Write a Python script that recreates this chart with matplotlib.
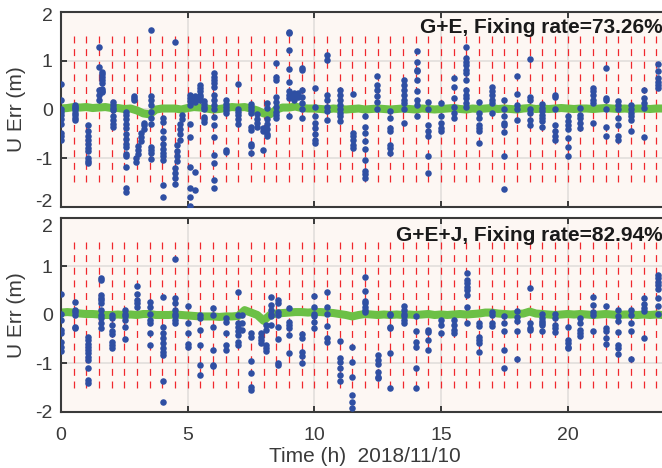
import numpy as np
import matplotlib
matplotlib.use("Agg")
import matplotlib.pyplot as plt
from matplotlib.transforms import ScaledTranslation

plt.rcParams['font.family'] = ['Liberation Sans', 'DejaVu Sans']
plt.rcParams['axes.unicode_minus'] = False
plt.rcParams['lines.scale_dashes'] = False

# ---------------- data ----------------
x_ticks = [0, 5, 10, 15, 20]
y_ticks = [-2, -1, 0, 1, 2]
titles = ["G+E, Fixing rate=73.26%", "G+E+J, Fixing rate=82.94%"]
x_label = "Time (h)  2018/11/10"
y_label = "U Err (m)"

# re-initialisation epochs (every half hour)
reset_t = np.arange(0.5, 24.0, 0.5)

# fixed solution (green), sampled every 0.25 h from 0 to 24 h
green_t = np.arange(0, 24.01, 0.25)
green_top = [0.02, 0.03, 0.05, 0.04, 0.05, 0.03, 0.04, 0.05, 0.03, 0.03,
             0.01, 0.02, -0.02, -0.08, -0.10, 0.00, 0.02, 0.02, 0.02, 0.00,
             0.03, 0.05, 0.04, 0.02, 0.00, 0.01, 0.03, 0.05, 0.04, 0.05,
             0.02, -0.02, -0.08, -0.10, 0.00, 0.04, 0.04, 0.06, 0.03, 0.02,
             0.02, 0.01, 0.00, 0.02, 0.01, 0.00, 0.01, 0.02, 0.00, 0.01,
             0.02, 0.01, 0.00, 0.01, 0.02, 0.01, 0.00, 0.02, 0.01, 0.00,
             0.01, 0.02, 0.03, 0.01, 0.00, 0.02, 0.01, 0.02, 0.03, 0.01,
             0.02, 0.01, 0.00, 0.02, 0.03, 0.01, 0.02, 0.01, 0.02, 0.03,
             0.02, 0.01, 0.02, 0.02, 0.01, 0.02, 0.03, 0.02, 0.01, 0.02,
             0.01, 0.02, 0.02, 0.01, 0.02, 0.02, 0.02]
green_bot = [0.05, 0.06, 0.05, 0.03, 0.02, 0.02, 0.01, 0.00, 0.00, 0.01,
             0.00, 0.01, 0.00, 0.02, 0.02, 0.00, 0.00, 0.00, 0.01, 0.00,
             -0.01, -0.02, -0.03, -0.03, -0.03, -0.04, -0.03, -0.03, -0.02, 0.10,
             0.05, 0.00, -0.12, 0.00, 0.03, 0.04, 0.05, 0.06, 0.06, 0.05,
             0.06, 0.06, 0.05, 0.04, 0.02, 0.00, -0.03, 0.00, 0.02, 0.01,
             0.00, 0.01, 0.00, 0.01, 0.00, 0.01, 0.00, 0.01, 0.02, 0.00,
             0.01, 0.00, 0.01, 0.02, 0.01, 0.02, 0.03, 0.05, 0.05, 0.03,
             0.02, 0.01, 0.02, 0.03, 0.07, 0.03, 0.02, 0.01, 0.00, 0.01,
             0.02, 0.01, 0.02, 0.01, 0.00, 0.01, 0.02, 0.01, 0.00, 0.01,
             0.01, 0.00, 0.01, 0.00, 0.01, 0.00, 0.01]

# float solutions (blue): epoch time -> list of U errors
blue_top_t = [0.00, 0.55, 1.05, 1.52, 1.60, 2.05, 2.55, 2.87, 2.95, 3.05,
              3.15, 3.28, 3.55, 4.02, 4.50, 4.60, 4.70, 4.76, 5.08, 5.30,
              5.50, 5.65, 6.06, 6.52, 7.00, 7.52, 7.75, 7.98, 8.15, 8.50,
              9.00, 9.20, 9.35, 9.52, 10.02, 10.50, 11.00, 11.52, 12.00, 12.48,
              13.00, 13.55, 14.05, 14.50, 15.00, 15.52, 16.00, 16.50, 17.00, 17.50,
              18.00, 18.50, 19.00, 19.50, 20.00, 20.50, 21.00, 21.50, 22.00, 22.50,
              23.00, 23.55]
blue_top_v = [
    [0.53, 0.19, 0.02, -0.06, -0.12, -0.2, -0.3, -0.49, -0.55, -0.62],
    [0.1, 0.06, 0.03, -0.02, -0.07, -0.12, -0.17, -0.22],
    [-0.32, -0.45, -0.55, -0.62, -0.7, -0.78, -0.86, -1.0, -1.05, -1.1],
    [1.29, 0.88, 0.4, 0.19, 0.3],
    [0.77, 0.72, 0.67, 0.6, 0.55, 0.42, 0.38, 0.35],
    [0.16, 0.1, 0.04, -0.02, -0.14, -0.22, -0.3, -0.36],
    [-0.05, -0.12, -0.2, -0.3, -0.38, -0.5, -0.6, -0.7, -0.77, -0.92, -0.96, -1.18, -1.62, -1.7],
    [0.28, 0.24, 0.2],
    [-1.08, -1.0],
    [-0.92, -0.84, -0.75],
    [-0.65, -0.56, -0.48],
    [-0.4, -0.32, -0.28],
    [1.63, 0.28, 0.2, 0.1, -0.05, -0.18, -0.29, -0.77, -0.84, -0.9, -1.02],
    [-0.18, -0.25, -0.45, -0.58, -0.7, -0.82, -0.9, -0.96, -1.04, -1.55, -1.79],
    [1.39, -1.52, -1.4, -1.3, -1.2],
    [-1.05, -0.95, -0.85, -0.72],
    [-0.62, -0.5, -0.4, -0.3],
    [-0.2, -0.12],
    [0.29, 0.24, 0.18, 0.1, -0.3, -0.56, -1.18, -1.62, -1.79, -1.97],
    [0.28, 0.24, 0.2, 0.16, -1.28, -1.66],
    [0.5, 0.44, 0.38, 0.3, 0.26, 0.2],
    [0.18, 0.12, 0.05, 0.0, -0.15, -0.2, -0.26],
    [0.74, 0.67, 0.6, 0.54, 0.47, 0.3, 0.2, 0.1, 0.0, -0.15, -0.32, -0.56, -0.94, -1.1, -1.45, -1.62],
    [0.19, 0.12, 0.05, -0.02, -0.08, -0.84, -0.87],
    [0.53, 0.02, -0.05, -0.12, -0.2, -0.29],
    [0.12, 0.05, -0.02, -0.08, -0.36, -0.42, -0.7, -0.74, -0.9],
    [-0.1, -0.2, -0.28, -0.35],
    [-0.38, -0.45, -0.84],
    [0.13, 0.03, -0.2, -0.3, -0.4, -0.5, -0.55],
    [0.96, 0.67, 0.6, 0.25, 0.16, 0.06, -0.05, -0.12, -0.18],
    [1.59, 1.56, 1.23, 0.84, 0.57, 0.37, 0.3, 0.23, -0.14],
    [0.33, 0.3, 0.26, 0.2],
    [0.33, 0.28, 0.26],
    [0.86, 0.82, 0.39, 0.26, 0.13, 0.0, -0.18],
    [0.44, 0.06, -0.14, -0.28, -0.38, -0.5, -0.62, -0.69],
    [1.12, 1.01, 0.3, 0.2, 0.06, -0.04, -0.21],
    [0.4, 0.3, 0.2, 0.1, 0.0, -0.07, -0.14, -0.24],
    [0.32, -0.48, -0.55, -0.63, -0.72, -0.79],
    [-0.14, -0.35, -0.48, -0.65, -0.82, -1.03, -1.27, -1.33, -1.4],
    [0.69, 0.5, 0.4, 0.27, 0.16, 0.0],
    [-0.04, -0.18, -0.38, -0.45, -0.72, -0.79, -0.89],
    [0.6, 0.5, 0.4, 0.3, 0.2, 0.13, 0.0, -0.28],
    [1.2, 0.98, 0.81, 0.78, 0.6, 0.37, 0.2, 0.1, -0.14],
    [0.16, 0.0, -0.31, -0.45, -0.55, -0.96, -1.3],
    [0.13, -0.14, -0.28, -0.38, -0.45],
    [0.64, 0.47, 0.23, 0.06, -0.07, -0.18],
    [1.29, 1.05, 0.98, 0.91, 0.81, 0.74, 0.6, 0.4, 0.3, 0.23, 0.13, 0.06],
    [0.16, -0.07, -0.18, -0.31, -0.38, -0.45, -0.69],
    [0.47, 0.37, 0.3, 0.2, 0.13, -0.07],
    [0.2, 0.0, -0.14, -0.28, -0.31, -0.47, -0.95, -1.64],
    [0.69, 0.32, 0.1, 0.0, -0.21],
    [1.03, 0.25, 0.2, 0.0, -0.07, -0.21, -0.31],
    [0.12, 0.03, -0.04, -0.11, -0.18, -0.24, -0.35],
    [0.3, 0.25, 0.0, -0.31, -0.45, -0.54, -0.62],
    [-0.14, -0.24, -0.31, -0.41, -0.58, -0.77, -0.95],
    [0.03, -0.11, -0.18, -0.28, -0.38],
    [0.44, 0.37, 0.3, 0.2, 0.13, -0.28],
    [0.86, 0.23, 0.2, 0.0, -0.35, -0.55],
    [0.18, 0.1, 0.0, -0.18, -0.31, -0.55, -0.62],
    [0.1, 0.0, -0.07, -0.14, -0.21, -0.45],
    [0.4, 0.23, 0.13, 0.03, -0.56],
    [0.93, 0.78, 0.64, 0.57, 0.5, 0.44],
]

blue_bot_t = [0.00, 0.55, 1.05, 1.58, 2.02, 2.53, 3.00, 3.50, 4.02, 4.52,
              5.02, 5.50, 6.00, 6.50, 7.00, 7.15, 7.50, 7.90, 8.10, 8.30,
              8.57, 9.02, 9.50, 10.00, 10.50, 11.00, 11.50, 12.00, 12.50, 13.00,
              13.55, 14.00, 14.50, 15.00, 15.50, 16.02, 16.50, 17.00, 17.50, 18.00,
              18.52, 19.00, 19.50, 20.00, 20.50, 21.00, 21.52, 22.00, 22.50, 23.00,
              23.55]
blue_bot_v = [
    [0.43, 0.03, -0.1, -0.31, -0.38, -0.55, -0.65, -0.74],
    [0.27, 0.1, 0.06, 0.01, -0.24, -0.27],
    [-0.45, -0.52, -0.59, -0.65, -0.72, -0.79, -0.86, -0.93, -1.09, -1.35, -1.4],
    [0.76, 0.72, 0.41, 0.36, 0.31, 0.24, 0.1, 0.0, -0.07, -0.17, -0.26],
    [0.01, -0.07, -0.21, -0.33, -0.4, -0.55, -0.62, -0.69],
    [0.1, 0.03, -0.03, -0.1, -0.24, -0.5],
    [0.6, 0.43, 0.31, 0.24, 0.17],
    [0.26, 0.17, 0.03, -0.1, -0.17, -0.38, -0.62],
    [0.38, -0.24, -0.38, -0.48, -0.58, -0.69, -0.76, -0.82, -1.36, -1.8],
    [1.15, 0.34, 0.24, 0.1, 0.03, -0.03, -0.1, -0.17],
    [0.19, -0.17, -0.38, -0.6, -0.65],
    [0.0, -0.07, -0.31, -0.62, -1.04, -1.24],
    [0.14, 0.01, -0.25, -0.72, -1.03, -1.06],
    [-0.07, -0.14, -0.38, -0.62, -0.72],
    [0.47, 0.0, -0.17, -0.24, -0.34, -0.41, -0.55, -0.62],
    [0.0, -0.17, -0.31],
    [-0.38, -0.45, -0.94, -1.2, -1.48, -1.55],
    [-0.38, -0.45, -0.52, -0.58],
    [-0.2, -0.3, -0.62, -0.68, -0.75],
    [0.38, 0.2, 0.1, 0.03, -0.03, -0.21],
    [0.31, 0.24, 0.07, 0.0, -0.24, -0.5, -1.0, -1.03],
    [0.14, -0.14, -0.21, -0.27, -0.41, -0.79],
    [-0.4, -0.48, -0.76, -0.84, -1.0],
    [0.4, 0.17, 0.03, -0.03, -0.14, -0.26],
    [0.47, 0.17, 0.03, -0.23, -0.48, -0.56],
    [-0.54, -0.89, -0.96, -1.09, -1.24, -1.37],
    [-0.67, -0.96, -1.27, -1.65, -1.79, -1.92],
    [0.79, 0.49, 0.29, 0.24, 0.17, 0.1, 0.07],
    [-0.82, -0.93, -1.02, -1.17, -1.27, -1.3],
    [0.03, 0.0, -0.24, -0.27, -0.79, -1.5],
    [0.19, 0.1, 0.03, -0.03, -0.1, -0.17],
    [-0.03, -0.34, -0.55, -0.65, -1.1, -1.5],
    [-0.31, -0.36, -0.52, -0.72],
    [-0.1, -0.21, -0.38],
    [-0.1, -0.21, -0.3, -0.38],
    [0.86, 0.72, 0.65, 0.58, 0.52, 0.41, 0.17, -0.17],
    [-0.17, -0.22, -0.45, -0.52, -0.58, -0.76],
    [0.07, 0.01, -0.17, -0.22],
    [-0.03, -0.17, -0.34, -0.72, -1.1],
    [0.08, -0.05, -0.12, -0.32, -0.91],
    [0.55, -0.17, -0.26, -0.31],
    [0.02, -0.07, -0.12, -0.17, -0.21, -0.34],
    [0.03, -0.07, -0.21, -0.27, -0.36],
    [-0.24, -0.52, -0.58, -0.65, -0.69],
    [-0.07, -0.17, -0.31, -0.38, -0.43],
    [0.38, 0.21, 0.07, 0.01, -0.34],
    [0.19, -0.26, -0.34, -0.47, -0.6],
    [0.1, -0.03, -0.12, -0.36, -0.62, -0.69, -0.81],
    [0.1, 0.01, -0.17, -0.34, -0.91],
    [0.34, 0.22, 0.14, 0.08, -0.47],
    [0.82, 0.76, 0.69, 0.62, 0.54, 0.36, 0.19, 0.02],
]

# ---------------- styling ----------------
BG = '#fdf7f3'
BLUE = '#2f4fa3'
GREEN = '#6cc046'
RED = '#f0282d'
GRID = '#e2dedb'
AX = '#3a3a3a'
TXT = '#3a3a3a'

fig = plt.figure(figsize=(6.62, 4.68), dpi=100)
ax_top = fig.add_axes([0.0921, 0.5577, 0.9184, 0.4167])
ax_bot = fig.add_axes([0.0921, 0.1197, 0.9184, 0.4145])

panels = [
    (ax_top, green_top, blue_top_t, blue_top_v, titles[0], 1.56),
    (ax_bot, green_bot, blue_bot_t, blue_bot_v, titles[1], 1.52),
]

for ax, g, bt, bv, title, ty in panels:
    ax.set_facecolor(BG)
    ax.set_xlim(0, 24)
    ax.set_ylim(-2, 2)
    ax.set_axisbelow(True)
    ax.grid(True, color=GRID, lw=1.2)
    # reset markers (dashes start at the top)
    ax.vlines(reset_t, 1.5, -1.5, colors=RED, linestyles=(0, (5.0, 4.1)),
              lw=0.9, zorder=1)
    ax.plot(green_t, g, color=GREEN, lw=5.8, solid_capstyle='round', zorder=2)
    for t, vals in zip(bt, bv):
        ax.plot([t] * len(vals), vals, 'o', color=BLUE, ms=4.7, mec='none',
                zorder=3)
    ax.text(23.77, ty, title, ha='right', va='baseline', fontsize=15,
            fontweight='bold', color='#1a1a1a', zorder=5)
    ax.set_xticks(x_ticks)
    ax.set_yticks(y_ticks)
    ax.set_yticklabels([str(v) for v in y_ticks])
    ax.tick_params(direction='in', length=4.5, width=1.4, colors=AX,
                   labelcolor=TXT, labelsize=14, top=True, right=True)
    ax.tick_params(axis='y', pad=6)
    ax.tick_params(axis='x', pad=11)
    for sp in ax.spines.values():
        sp.set_color(AX)
        sp.set_linewidth(1.5)
    ax.set_ylabel(y_label, fontsize=15, color=TXT, labelpad=7)

ax_top.tick_params(labelbottom=False)
ax_bot.set_xticklabels([str(v) for v in x_ticks])
ax_bot.set_xlabel(x_label, fontsize=15, color=TXT, labelpad=2)

# nudge the edge tick labels apart where the two panels meet
def nudge(label, dy_px):
    label.set_transform(label.get_transform() +
                        ScaledTranslation(0, dy_px / 100.0, fig.dpi_scale_trans))

top_ticks = ax_top.yaxis.get_major_ticks()
bot_ticks = ax_bot.yaxis.get_major_ticks()
nudge(top_ticks[0].label1, 6)    # "-2" of upper panel
nudge(top_ticks[-1].label1, -3)  # "2" of upper panel
nudge(bot_ticks[-1].label1, -8)  # "2" of lower panel

fig.savefig('out.png', dpi=100, facecolor='white')
